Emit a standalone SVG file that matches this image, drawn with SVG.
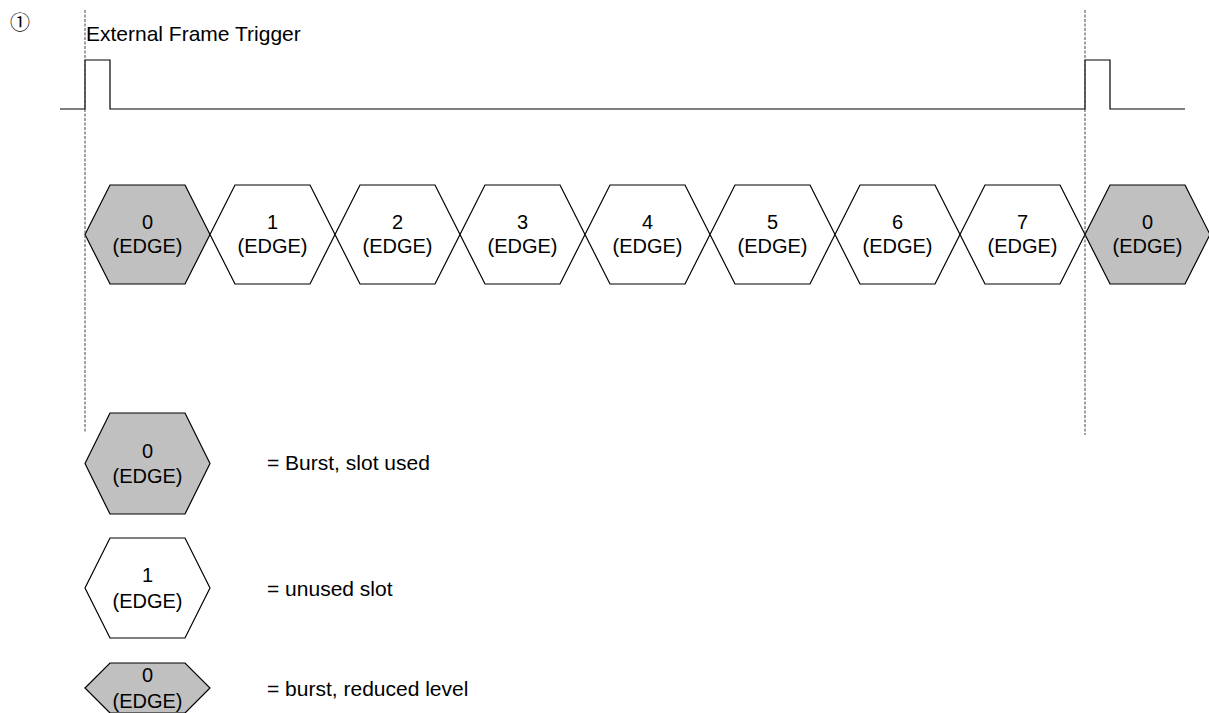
<svg xmlns="http://www.w3.org/2000/svg" width="1209" height="713" viewBox="0 0 1209 713">
<style>
.hex{stroke:#000;stroke-width:1.2;stroke-linejoin:miter}
.used{fill:#c0c0c0}
.unused{fill:#fff}
.lbl{font-family:"Liberation Sans",Arial,sans-serif;font-size:20px;fill:#000;text-anchor:middle}
.txt{font-family:"Liberation Sans",Arial,sans-serif;font-size:21px;fill:#000}
.dash{stroke:#444;stroke-width:1;stroke-dasharray:3,1.5;fill:none}
.sig{stroke:#000;stroke-width:1.2;fill:none}
</style>
<rect width="1209" height="713" fill="#fff"/>
<text x="20" y="29.5" style="font-family:'Noto Sans CJK JP','DejaVu Sans',sans-serif;font-size:20px;text-anchor:middle">①</text>
<text class="txt" x="86" y="41">External Frame Trigger</text>
<g id="connectors">
<polyline class="sig" points="60,109 85,109 85,60 110,60 110,109 1085,109 1085,60 1110,60 1110,109 1185,109"/>
</g>
<g id="hexrow">
<g id="slot0a"><polygon class="hex used" points="85,234.5 110,185 185,185 210,234.5 185,284 110,284"/><text class="lbl" x="147.5" y="229">0</text><text class="lbl" x="147.5" y="253">(EDGE)</text></g>
<g id="slot1"><polygon class="hex unused" points="210,234.5 235,185 310,185 335,234.5 310,284 235,284"/><text class="lbl" x="272.5" y="229">1</text><text class="lbl" x="272.5" y="253">(EDGE)</text></g>
<g id="slot2"><polygon class="hex unused" points="335,234.5 360,185 435,185 460,234.5 435,284 360,284"/><text class="lbl" x="397.5" y="229">2</text><text class="lbl" x="397.5" y="253">(EDGE)</text></g>
<g id="slot3"><polygon class="hex unused" points="460,234.5 485,185 560,185 585,234.5 560,284 485,284"/><text class="lbl" x="522.5" y="229">3</text><text class="lbl" x="522.5" y="253">(EDGE)</text></g>
<g id="slot4"><polygon class="hex unused" points="585,234.5 610,185 685,185 710,234.5 685,284 610,284"/><text class="lbl" x="647.5" y="229">4</text><text class="lbl" x="647.5" y="253">(EDGE)</text></g>
<g id="slot5"><polygon class="hex unused" points="710,234.5 735,185 810,185 835,234.5 810,284 735,284"/><text class="lbl" x="772.5" y="229">5</text><text class="lbl" x="772.5" y="253">(EDGE)</text></g>
<g id="slot6"><polygon class="hex unused" points="835,234.5 860,185 935,185 960,234.5 935,284 860,284"/><text class="lbl" x="897.5" y="229">6</text><text class="lbl" x="897.5" y="253">(EDGE)</text></g>
<g id="slot7"><polygon class="hex unused" points="960,234.5 985,185 1060,185 1085,234.5 1060,284 985,284"/><text class="lbl" x="1022.5" y="229">7</text><text class="lbl" x="1022.5" y="253">(EDGE)</text></g>
<g id="slot0b"><polygon class="hex used" points="1085,234.5 1110,185 1185,185 1210,234.5 1185,284 1110,284"/><text class="lbl" x="1147.5" y="229">0</text><text class="lbl" x="1147.5" y="253">(EDGE)</text></g>
</g>
<g id="markers">
<line class="dash" x1="85" y1="10" x2="85" y2="432"/>
<line class="dash" x1="1085" y1="10" x2="1085" y2="435"/>
</g>
<g id="legend-used"><polygon class="hex used" points="85,463.5 110,413 185,413 210,463.5 185,514 110,514"/><text class="lbl" x="147.5" y="458">0</text><text class="lbl" x="147.5" y="483">(EDGE)</text><text class="txt" x="267" y="470">= Burst, slot used</text></g>
<g id="legend-unused"><polygon class="hex unused" points="85,588 110,538 185,538 210,588 185,638 110,638"/><text class="lbl" x="147.5" y="582">1</text><text class="lbl" x="147.5" y="608">(EDGE)</text><text class="txt" x="267" y="596">= unused slot</text></g>
<g id="legend-reduced"><polygon class="hex used" points="85,688 110,663 185,663 210,688 185,713 110,713"/><text class="lbl" x="147.5" y="682">0</text><text class="lbl" x="147.5" y="708">(EDGE)</text><text class="txt" x="267" y="696">= burst, reduced level</text></g>
</svg>
